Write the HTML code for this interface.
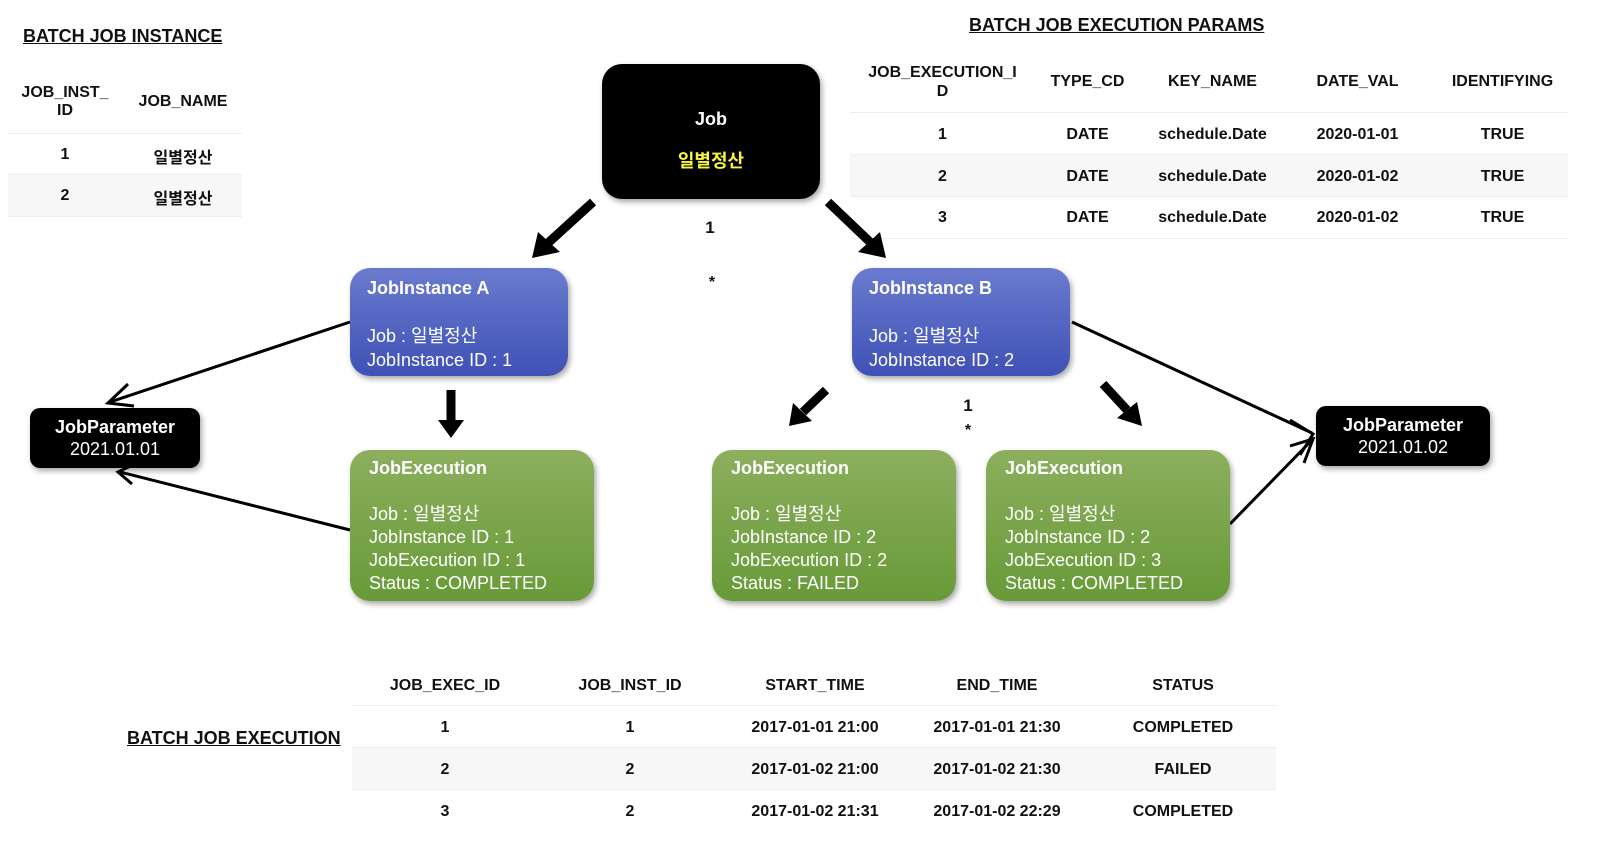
<!DOCTYPE html>
<html><head><meta charset="utf-8"><style>
body{margin:0;width:1602px;height:842px;background:#fff;position:relative;overflow:hidden;font-family:"Liberation Sans","Noto Sans CJK KR",sans-serif;font-weight:bold;}
.a{position:absolute}
.t{position:absolute;font-size:16px;color:#111;text-align:center}
.ttl{position:absolute;font-size:18px;text-decoration:underline;color:#111}
.box{position:absolute;border-radius:20px;color:#fff;box-shadow:2px 3px 6px rgba(0,0,0,.35);box-sizing:border-box;font-size:18px;font-weight:normal;line-height:24px}
.blue{background:linear-gradient(#6a7bcf,#3f51b5)}
.green{background:linear-gradient(#8caf5e,#689a38)}
.box b{font-weight:bold}
.row{position:absolute;height:41px;border-top:1px solid #eee}
.alt{background:#f7f7f7}
</style></head><body>
<div class="ttl" style="left:23px;top:26px">BATCH JOB INSTANCE</div>
<div class="row" style="left:8px;top:133px;width:234px"></div>
<div class="row alt" style="left:8px;top:174px;width:234px;border-bottom:1px solid #eee"></div>
<div class="t" style="left:10px;top:84px;width:110px;line-height:18px">JOB_INST_<br>ID</div>
<div class="t" style="left:128px;top:93px;width:110px">JOB_NAME</div>
<div class="t" style="left:10px;top:146px;width:110px">1</div>
<div class="t" style="left:128px;top:144px;width:110px">일별정산</div>
<div class="t" style="left:10px;top:187px;width:110px">2</div>
<div class="t" style="left:128px;top:185px;width:110px">일별정산</div>

<div class="ttl" style="left:969px;top:15px">BATCH JOB EXECUTION PARAMS</div>
<div class="row" style="left:850px;top:112px;width:718px"></div>
<div class="row alt" style="left:850px;top:154px;width:718px"></div>
<div class="row" style="left:850px;top:196px;width:718px;border-bottom:1px solid #eee"></div>
<div class="t" style="left:860px;top:63px;width:165px;line-height:19px">JOB_EXECUTION_I<br>D</div>
<div class="t" style="left:1040px;top:73px;width:95px">TYPE_CD</div>
<div class="t" style="left:1150px;top:73px;width:125px">KEY_NAME</div>
<div class="t" style="left:1300px;top:73px;width:115px">DATE_VAL</div>
<div class="t" style="left:1445px;top:73px;width:115px">IDENTIFYING</div>
<div class="t" style="left:860px;top:126px;width:165px">1</div><div class="t" style="left:1040px;top:126px;width:95px">DATE</div><div class="t" style="left:1150px;top:126px;width:125px">schedule.Date</div><div class="t" style="left:1300px;top:126px;width:115px">2020-01-01</div><div class="t" style="left:1445px;top:126px;width:115px">TRUE</div>
<div class="t" style="left:860px;top:168px;width:165px">2</div><div class="t" style="left:1040px;top:168px;width:95px">DATE</div><div class="t" style="left:1150px;top:168px;width:125px">schedule.Date</div><div class="t" style="left:1300px;top:168px;width:115px">2020-01-02</div><div class="t" style="left:1445px;top:168px;width:115px">TRUE</div>
<div class="t" style="left:860px;top:209px;width:165px">3</div><div class="t" style="left:1040px;top:209px;width:95px">DATE</div><div class="t" style="left:1150px;top:209px;width:125px">schedule.Date</div><div class="t" style="left:1300px;top:209px;width:115px">2020-01-02</div><div class="t" style="left:1445px;top:209px;width:115px">TRUE</div>

<div class="ttl" style="left:127px;top:728px">BATCH JOB EXECUTION</div>
<div class="row" style="left:352px;top:705px;width:924px"></div>
<div class="row alt" style="left:352px;top:747px;width:924px"></div>
<div class="row" style="left:352px;top:789px;width:924px"></div>
<div class="t" style="left:370px;top:677px;width:150px">JOB_EXEC_ID</div><div class="t" style="left:555px;top:677px;width:150px">JOB_INST_ID</div><div class="t" style="left:740px;top:677px;width:150px">START_TIME</div><div class="t" style="left:922px;top:677px;width:150px">END_TIME</div><div class="t" style="left:1108px;top:677px;width:150px">STATUS</div>
<div class="t" style="left:370px;top:719px;width:150px">1</div><div class="t" style="left:555px;top:719px;width:150px">1</div><div class="t" style="left:740px;top:719px;width:150px">2017-01-01 21:00</div><div class="t" style="left:922px;top:719px;width:150px">2017-01-01 21:30</div><div class="t" style="left:1108px;top:719px;width:150px">COMPLETED</div>
<div class="t" style="left:370px;top:761px;width:150px">2</div><div class="t" style="left:555px;top:761px;width:150px">2</div><div class="t" style="left:740px;top:761px;width:150px">2017-01-02 21:00</div><div class="t" style="left:922px;top:761px;width:150px">2017-01-02 21:30</div><div class="t" style="left:1108px;top:761px;width:150px">FAILED</div>
<div class="t" style="left:370px;top:803px;width:150px">3</div><div class="t" style="left:555px;top:803px;width:150px">2</div><div class="t" style="left:740px;top:803px;width:150px">2017-01-02 21:31</div><div class="t" style="left:922px;top:803px;width:150px">2017-01-02 22:29</div><div class="t" style="left:1108px;top:803px;width:150px">COMPLETED</div>

<svg class="a" style="left:0;top:0" width="1602" height="842">
<g stroke="#000" stroke-width="3" fill="none">
<line x1="350" y1="322" x2="110" y2="402"/><polyline points="128,384 108,403 134,406"/>
<line x1="350" y1="530" x2="120" y2="472"/><polyline points="137,463 118,472 132,484"/>
<line x1="1072" y1="322" x2="1312" y2="433"/><polyline points="1290,420 1313,434 1300,455"/>
<line x1="1230" y1="524" x2="1312" y2="440"/><polyline points="1304,463 1313,439 1290,446"/>
</g>
<g fill="#000">
<line x1="593" y1="202" x2="548" y2="243" stroke="#000" stroke-width="9"/><polygon points="532,258 538,232 560,252"/>
<line x1="828" y1="202" x2="870" y2="242" stroke="#000" stroke-width="9"/><polygon points="886,258 858,252 880,232"/>
<line x1="451" y1="390" x2="451" y2="422" stroke="#000" stroke-width="9"/><polygon points="438,420 464,420 451,438"/>
<line x1="826" y1="390" x2="803" y2="412" stroke="#000" stroke-width="9"/><polygon points="789,426 793,403 812,421"/>
<line x1="1103" y1="384" x2="1127" y2="410" stroke="#000" stroke-width="9"/><polygon points="1142,426 1117,418 1137,402"/>
</g>
</svg>
<div class="t" style="left:700px;top:218px;width:20px;font-size:17px">1</div>
<div class="t" style="left:702px;top:274px;width:20px">*</div>
<div class="t" style="left:958px;top:396px;width:20px;font-size:17px">1</div>
<div class="t" style="left:958px;top:422px;width:20px">*</div>

<div class="box" style="left:602px;top:64px;width:218px;height:135px;background:#000;text-align:center;padding-top:34px;line-height:42px"><b>Job</b><br><b style="color:#f5f542">일별정산</b></div>
<div class="box blue" style="left:350px;top:268px;width:218px;height:108px;padding:8px 17px"><b>JobInstance A</b><br><br style="line-height:20px">Job : 일별정산<br>JobInstance ID : 1</div>
<div class="box blue" style="left:852px;top:268px;width:218px;height:108px;padding:8px 17px"><b>JobInstance B</b><br><br style="line-height:20px">Job : 일별정산<br>JobInstance ID : 2</div>
<div class="box green" style="left:350px;top:450px;width:244px;height:151px;padding:7px 19px;line-height:23px"><b>JobExecution</b><br><br style="line-height:20px">Job : 일별정산<br>JobInstance ID : 1<br>JobExecution ID : 1<br>Status : COMPLETED</div>
<div class="box green" style="left:712px;top:450px;width:244px;height:151px;padding:7px 19px;line-height:23px"><b>JobExecution</b><br><br style="line-height:20px">Job : 일별정산<br>JobInstance ID : 2<br>JobExecution ID : 2<br>Status : FAILED</div>
<div class="box green" style="left:986px;top:450px;width:244px;height:151px;padding:7px 19px;line-height:23px"><b>JobExecution</b><br><br style="line-height:20px">Job : 일별정산<br>JobInstance ID : 2<br>JobExecution ID : 3<br>Status : COMPLETED</div>
<div class="box" style="left:30px;top:408px;width:170px;height:60px;background:#000;border-radius:10px;text-align:center;padding-top:8px;line-height:22px"><b>JobParameter</b><br>2021.01.01</div>
<div class="box" style="left:1316px;top:406px;width:174px;height:60px;background:#000;border-radius:10px;text-align:center;padding-top:8px;line-height:22px"><b>JobParameter</b><br>2021.01.02</div>
</body></html>
